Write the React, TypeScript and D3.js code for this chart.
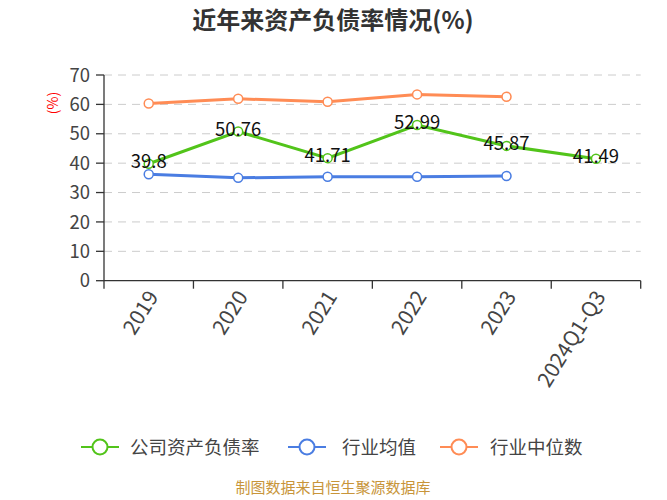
import React from "react";
import * as d3 from "d3";

const categories = ["2019", "2020", "2021", "2022", "2023", "2024Q1-Q3"];
const companyRatio = [39.8, 50.76, 41.71, 52.99, 45.87, 41.49];
const industryMean = [36.2, 35.0, 35.4, 35.4, 35.6];
const industryMedian = [60.3, 61.9, 60.9, 63.4, 62.6];
const yTicks = [0, 10, 20, 30, 40, 50, 60, 70];
const seriesNames = ["公司资产负债率", "行业均值", "行业中位数"];
const seriesColors = ["#52c41a", "#4a7de2", "#ff8c55"];

const W = 667, H = 500;
const left = 104, right = 640.7, top = 75, bottom = 280.7;

export default function App() {
  const x = d3.scaleBand<string>().domain(categories).range([left, right]);
  const y = d3.scaleLinear().domain([0, 70]).range([bottom, top]);
  const cx = (c: string) => (x(c) as number) + x.bandwidth() / 2;
  const line = d3.line<[number, number]>().x(d => d[0]).y(d => d[1]);
  const font = "'Microsoft YaHei', 'Noto Sans CJK SC', 'Noto Sans', sans-serif";

  const series = [companyRatio, industryMean, industryMedian];
  const drawOrder = [2, 1, 0];

  const legendItems = [
    { x: 81, tx: 130 },
    { x: 288, tx: 342 },
    { x: 440, tx: 490 },
  ];

  return (
    <svg width={W} height={H} style={{ position: "absolute", left: 0, top: 0 }} fontFamily={font}>
      <rect width={W} height={H} fill="#fff" />
      <text x={333} y={29} textAnchor="middle" fontSize={24} fontWeight="bold" fill="#333">
        近年来资产负债率情况(%)
      </text>
      {/* grid */}
      {yTicks.filter(t => t > 0).map(t => (
        <line key={t} x1={left} x2={right} y1={y(t)} y2={y(t)} stroke="#ccc" strokeDasharray="8,6" strokeWidth={1} />
      ))}
      {/* y axis */}
      <line x1={left} x2={left} y1={top} y2={bottom} stroke="#333" strokeWidth={1.3} />
      {yTicks.map(t => (
        <g key={t}>
          <line x1={left - 8} x2={left} y1={y(t)} y2={y(t)} stroke="#333" strokeWidth={1.3} />
          <text x={left - 14} y={y(t)} dy="0.36em" textAnchor="end" fontSize={18.5} fill="#444">{t}</text>
        </g>
      ))}
      <text transform={`translate(58,103) rotate(-90)`} textAnchor="middle" fontSize={14} fill="#ff0000">(%)</text>
      {/* x axis */}
      <line x1={left} x2={right} y1={bottom} y2={bottom} stroke="#333" strokeWidth={1.3} />
      {[...categories.map(c => x(c) as number), right].map((t, i) => (
        <line key={i} x1={t} x2={t} y1={bottom} y2={bottom + 8} stroke="#333" strokeWidth={1.3} />
      ))}
      {categories.map(c => (
        <text key={c} transform={`translate(${cx(c) + 4},${bottom + 12}) rotate(-58)`} textAnchor="end" dy="0.36em" fontSize={21} fill="#444">{c}</text>
      ))}
      {/* series */}
      {drawOrder.map(si => {
        const vals = series[si];
        const pts: [number, number][] = vals.map((v, i) => [cx(categories[i]), y(v)]);
        return (
          <g key={si}>
            <path d={line(pts) || ""} fill="none" stroke={seriesColors[si]} strokeWidth={3} />
            {pts.map((p, i) => (
              <circle key={i} cx={p[0]} cy={p[1]} r={4.5} fill="#fff" stroke={seriesColors[si]} strokeWidth={1.5} />
            ))}
          </g>
        );
      })}
      {companyRatio.map((v, i) => (
        <text key={i} x={cx(categories[i])} y={y(v) + 4} textAnchor="middle" fontSize={18.5} fill="#111">{v}</text>
      ))}
      {/* legend */}
      {legendItems.map((l, i) => (
        <g key={i}>
          <line x1={l.x} x2={l.x + 38} y1={447} y2={447} stroke={seriesColors[i]} strokeWidth={2} />
          <circle cx={l.x + 19} cy={447} r={7.5} fill="#fff" stroke={seriesColors[i]} strokeWidth={2} />
          <text x={l.tx} y={447} dy="0.36em" fontSize={18.5} fill="#444">{seriesNames[i]}</text>
        </g>
      ))}
      <text x={333} y={493} textAnchor="middle" fontSize={15} fill="#c8953a">制图数据来自恒生聚源数据库</text>
    </svg>
  );
}
